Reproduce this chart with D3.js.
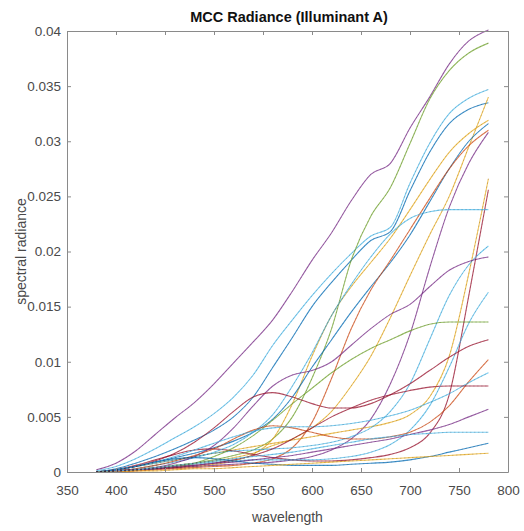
<!DOCTYPE html>
<html>
<head>
<meta charset="utf-8">
<script src="https://cdn.jsdelivr.net/npm/d3@7"></script>
<style>
  body { margin: 0; background: #fff; }
  svg { display: block; font-family: "Liberation Sans", Arial, sans-serif; }
</style>
</head>
<body>
<div id="chart"></div>
<script>
// wavelengths sampled every 20 nm
const wavelengths = [380, 400, 420, 440, 460, 480, 500, 520, 540, 560, 580, 600, 620, 640, 660, 680, 700, 720, 740, 760, 780];

// radiance of each patch
const white      = [0.0002,0.0008,0.0019,0.0034,0.0049,0.0063,0.0080,0.0099,0.0118,0.0138,0.0164,0.0192,0.0217,0.0246,0.0270,0.0280,0.0312,0.0340,0.0370,0.0391,0.0401];
const neutral8   = [0.0001,0.0005,0.0012,0.0021,0.0031,0.0041,0.0053,0.0068,0.0088,0.0115,0.0138,0.0160,0.0180,0.0198,0.0214,0.0222,0.0262,0.0298,0.0325,0.0339,0.0347];
const neutral65  = [0.0000,0.0003,0.0008,0.0014,0.0021,0.0029,0.0038,0.0050,0.0068,0.0095,0.0122,0.0150,0.0172,0.0192,0.0210,0.0218,0.0255,0.0290,0.0316,0.0329,0.0335];
const yellow     = [0.0000,0.0001,0.0002,0.0004,0.0006,0.0008,0.0011,0.0015,0.0020,0.0030,0.0050,0.0085,0.0130,0.0192,0.0232,0.0258,0.0298,0.0338,0.0364,0.0380,0.0389];
const magenta    = [0.0000,0.0001,0.0002,0.0004,0.0006,0.0008,0.0010,0.0013,0.0017,0.0024,0.0030,0.0040,0.0055,0.0078,0.0105,0.0140,0.0178,0.0215,0.0250,0.0295,0.0340];
const orangeYel  = [0.0000,0.0001,0.0002,0.0003,0.0004,0.0005,0.0007,0.0010,0.0016,0.0030,0.0062,0.0105,0.0142,0.0168,0.0190,0.0212,0.0238,0.0265,0.0290,0.0307,0.0319];
const purpleBlu2 = [0.0000,0.0001,0.0002,0.0003,0.0004,0.0005,0.0006,0.0007,0.0008,0.0009,0.0011,0.0014,0.0020,0.0030,0.0048,0.0080,0.0125,0.0185,0.0240,0.0280,0.0308];
const lightSkin  = [0.0000,0.0002,0.0005,0.0009,0.0013,0.0017,0.0022,0.0028,0.0036,0.0048,0.0068,0.0095,0.0120,0.0145,0.0168,0.0190,0.0215,0.0245,0.0275,0.0300,0.0316];
const red        = [0.0000,0.0000,0.0001,0.0002,0.0003,0.0004,0.0005,0.0006,0.0008,0.0012,0.0022,0.0045,0.0085,0.0130,0.0165,0.0192,0.0220,0.0248,0.0275,0.0296,0.0310];
const purple     = [0.0000,0.0002,0.0005,0.0008,0.0011,0.0014,0.0017,0.0020,0.0023,0.0026,0.0029,0.0032,0.0035,0.0038,0.0041,0.0045,0.0052,0.0068,0.0105,0.0180,0.0266];
const blueFlower = [0.0000,0.0002,0.0006,0.0011,0.0016,0.0020,0.0021,0.0019,0.0016,0.0013,0.0011,0.0010,0.0010,0.0011,0.0013,0.0016,0.0022,0.0035,0.0070,0.0160,0.0256];
const yellowGrn  = [0.0000,0.0001,0.0003,0.0006,0.0009,0.0013,0.0018,0.0025,0.0036,0.0052,0.0078,0.0108,0.0142,0.0170,0.0195,0.0216,0.0230,0.0236,0.0238,0.0238,0.0238];
const blueSky    = [0.0000,0.0002,0.0005,0.0008,0.0011,0.0014,0.0017,0.0019,0.0020,0.0021,0.0022,0.0024,0.0027,0.0032,0.0040,0.0055,0.0080,0.0120,0.0160,0.0188,0.0205];
const cyan       = [0.0000,0.0001,0.0002,0.0003,0.0005,0.0007,0.0009,0.0010,0.0011,0.0011,0.0011,0.0011,0.0012,0.0014,0.0018,0.0025,0.0038,0.0060,0.0095,0.0135,0.0163];
const neutral5   = [0.0000,0.0001,0.0002,0.0004,0.0008,0.0014,0.0024,0.0040,0.0060,0.0078,0.0088,0.0092,0.0100,0.0115,0.0130,0.0143,0.0152,0.0168,0.0183,0.0191,0.0195];
const green      = [0.0000,0.0001,0.0002,0.0003,0.0005,0.0008,0.0014,0.0022,0.0033,0.0047,0.0062,0.0076,0.0090,0.0102,0.0112,0.0120,0.0128,0.0134,0.0136,0.0136,0.0136];
const modRed     = [0.0000,0.0002,0.0005,0.0010,0.0017,0.0027,0.0040,0.0055,0.0068,0.0072,0.0068,0.0062,0.0058,0.0058,0.0062,0.0070,0.0080,0.0092,0.0104,0.0114,0.0120];
const foliage    = [0.0000,0.0001,0.0003,0.0006,0.0010,0.0015,0.0021,0.0030,0.0038,0.0042,0.0040,0.0036,0.0032,0.0030,0.0030,0.0032,0.0036,0.0045,0.0060,0.0082,0.0102];
const bluishGrn  = [0.0000,0.0002,0.0005,0.0009,0.0014,0.0020,0.0026,0.0032,0.0037,0.0040,0.0041,0.0041,0.0042,0.0044,0.0047,0.0051,0.0056,0.0063,0.0071,0.0081,0.0090];
const darkSkin   = [0.0000,0.0001,0.0002,0.0003,0.0004,0.0006,0.0008,0.0011,0.0015,0.0021,0.0030,0.0040,0.0050,0.0058,0.0065,0.0070,0.0074,0.0077,0.0078,0.0078,0.0078];
const neutral35  = [0.0000,0.0001,0.0002,0.0003,0.0005,0.0006,0.0008,0.0009,0.0011,0.0013,0.0015,0.0018,0.0021,0.0024,0.0027,0.0030,0.0034,0.0038,0.0043,0.0050,0.0057];
const purpleBlue = [0.0000,0.0001,0.0002,0.0004,0.0006,0.0008,0.0010,0.0012,0.0014,0.0016,0.0018,0.0021,0.0024,0.0027,0.0030,0.0032,0.0034,0.0035,0.0036,0.0036,0.0036];
const blue       = [0.0000,0.0002,0.0005,0.0009,0.0012,0.0013,0.0012,0.0010,0.0008,0.0007,0.0006,0.0006,0.0006,0.0007,0.0008,0.0009,0.0011,0.0014,0.0018,0.0022,0.0026];
const black      = [0.0000,0.0000,0.0001,0.0001,0.0002,0.0003,0.0003,0.0004,0.0005,0.0006,0.0007,0.0008,0.0009,0.0010,0.0011,0.0012,0.0013,0.0014,0.0015,0.0016,0.0017];

const seriesList = [white, neutral8, neutral65, yellow, magenta, orangeYel, purpleBlu2, lightSkin, red, purple,
                    blueFlower, yellowGrn, blueSky, cyan, neutral5, green, modRed, foliage, bluishGrn,
                    darkSkin, neutral35, purpleBlue, blue, black];

// matlab default line colours, one per series
const lineColors = ["#7E2F8E", "#4DBEEE", "#0072BD", "#77AC30", "#EDB120", "#EDB120", "#7E2F8E", "#0072BD",
                    "#D95319", "#EDB120", "#A2142F", "#4DBEEE", "#4DBEEE", "#4DBEEE", "#7E2F8E", "#77AC30",
                    "#A2142F", "#D95319", "#4DBEEE", "#A2142F", "#7E2F8E", "#4DBEEE", "#0072BD", "#EDB120"];

const xTicks = [350, 400, 450, 500, 550, 600, 650, 700, 750, 800];
const yTicks = [0, 0.005, 0.01, 0.015, 0.02, 0.025, 0.03, 0.035, 0.04];

const width = 524, height = 531;
const margin = { top: 31, right: 16, bottom: 59, left: 67 };

const x = d3.scaleLinear()
    .domain([350, 800])
    .range([margin.left, width - margin.right]);

const y = d3.scaleLinear()
    .domain([0, 0.04])
    .range([height - margin.bottom, margin.top]);

const svg = d3.select("#chart").append("svg")
    .attr("width", width)
    .attr("height", height);

const axisColor = "#8a8a8a";
const textColor = "#4a4a4a";

// plot lines
const line = d3.line()
    .x((d, i) => x(wavelengths[i]))
    .y(d => y(d))
    .curve(d3.curveMonotoneX);

const lines = svg.append("g");

lines.selectAll("path.line")
    .data(seriesList)
    .join("path")
    .attr("class", "line")
    .attr("fill", "none")
    .attr("stroke", (d, i) => lineColors[i])
    .attr("stroke-width", 1.1)
    .attr("stroke-opacity", 0.75)
    .attr("d", line);

// the scanned figure has a dark dotted grain along each line
lines.selectAll("path.grain")
    .data(seriesList)
    .join("path")
    .attr("class", "grain")
    .attr("fill", "none")
    .attr("stroke", "#3a2a3a")
    .attr("stroke-width", 1)
    .attr("stroke-opacity", 0.22)
    .attr("stroke-dasharray", "1.5,2.5")
    .attr("d", line);

// box axes, ticks pointing inward
function styleAxis(g) {
    g.select(".domain").attr("stroke", axisColor);
    g.selectAll(".tick line").attr("stroke", axisColor);
    g.selectAll(".tick text").attr("fill", textColor).style("font-size", "13.5px");
}

svg.append("g")
    .attr("transform", `translate(0,${height - margin.bottom})`)
    .call(d3.axisBottom(x).tickValues(xTicks).tickSizeInner(-4).tickSizeOuter(0).tickPadding(13))
    .call(styleAxis);

svg.append("g")
    .attr("transform", `translate(0,${margin.top})`)
    .call(d3.axisTop(x).tickValues(xTicks).tickSizeInner(-4).tickSizeOuter(0).tickFormat(""))
    .call(styleAxis);

svg.append("g")
    .attr("transform", `translate(${margin.left},0)`)
    .call(d3.axisLeft(y).tickValues(yTicks).tickSizeInner(-4).tickSizeOuter(0).tickPadding(6)
        .tickFormat(d => d === 0 ? "0" : String(+d.toFixed(3))))
    .call(styleAxis);

svg.append("g")
    .attr("transform", `translate(${width - margin.right},0)`)
    .call(d3.axisRight(y).tickValues(yTicks).tickSizeInner(-4).tickSizeOuter(0).tickFormat(""))
    .call(styleAxis);

// title and axis labels
svg.append("text")
    .attr("x", 289)
    .attr("y", 22)
    .attr("text-anchor", "middle")
    .attr("fill", "#111")
    .style("font-size", "14.5px")
    .style("font-weight", "bold")
    .text("MCC Radiance (Illuminant A)");

svg.append("text")
    .attr("x", (margin.left + width - margin.right) / 2)
    .attr("y", 522)
    .attr("text-anchor", "middle")
    .attr("fill", textColor)
    .style("font-size", "14px")
    .text("wavelength");

svg.append("text")
    .attr("transform", `translate(26,${(margin.top + height - margin.bottom) / 2}) rotate(-90)`)
    .attr("text-anchor", "middle")
    .attr("fill", textColor)
    .style("font-size", "14px")
    .text("spectral radiance");
</script>
</body>
</html>
